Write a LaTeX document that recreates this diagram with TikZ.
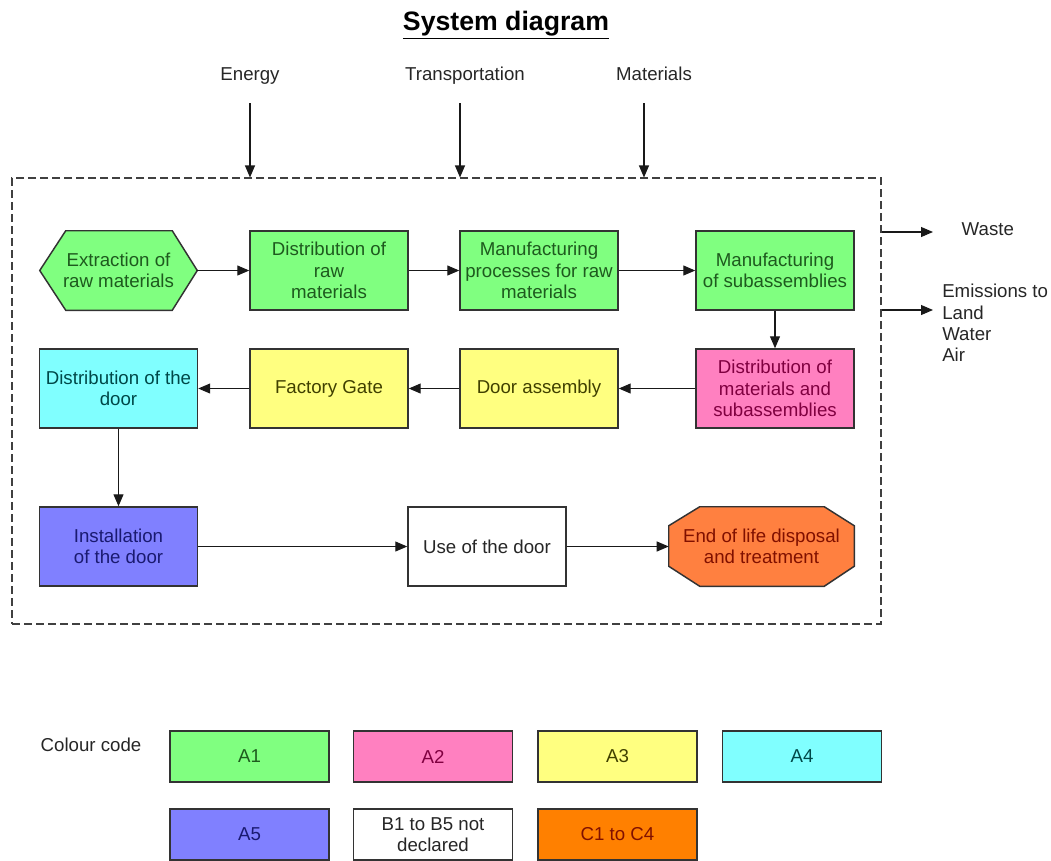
\documentclass[tikz,border=0pt]{standalone}
\usepackage{fontspec}
\setmainfont{Liberation Sans}
\usetikzlibrary{arrows.meta,backgrounds,calc}
\definecolor{aone}{HTML}{80FF80}
\definecolor{atwo}{HTML}{FF80C0}
\definecolor{athree}{HTML}{FFFF80}
\definecolor{afour}{HTML}{80FFFF}
\definecolor{afive}{HTML}{8080FF}
\definecolor{cend}{HTML}{FF8040}
\definecolor{ckey}{HTML}{FF8000}
\definecolor{aonetxt}{HTML}{1E5A1E}
\definecolor{atwotxt}{HTML}{800040}
\definecolor{athreetxt}{HTML}{404000}
\definecolor{afourtxt}{HTML}{004848}
\definecolor{afivetxt}{HTML}{1A1A70}
\definecolor{cendtxt}{HTML}{801000}
\begin{document}
\begin{tikzpicture}[x=0.75pt,y=-0.75pt,
  every node/.style={font=\fontsize{14}{16}\selectfont, align=center, text=black!85},
  box/.style={draw=black!80, line width=1.1pt, minimum width=118.5pt, minimum height=59.25pt, inner sep=1pt},
  shapebox/.style={minimum width=#1, minimum height=59.25pt, inner sep=1pt},
  keybox/.style={draw=black!80, line width=1.1pt, minimum width=119.25pt, minimum height=38.25pt, inner sep=1pt},
  arr/.style={-{Triangle[length=9pt,width=7.5pt]}, line width=0.8pt, black!90},
  sysbox/.style={draw=black!75, line width=0.8pt, dash pattern=on 6pt off 3pt, minimum width=651.75pt, minimum height=334.5pt}]
\useasboundingbox (0,0) rectangle (1051,861);

\node[font=\bfseries\fontsize{20}{24}\selectfont, text=black] (title) at (506,25) {\underline{System diagram}};
\node[anchor=base] (energy) at (250,80) {Energy};
\node[anchor=base] (transport) at (465,80) {Transportation};
\node[anchor=base] (materials) at (654,80) {Materials};

\node[sysbox] (sys) at (446.5,401) {};

\coordinate (e0) at (250,103);
\coordinate (t0) at (460,103);
\coordinate (m0) at (644,103);
\draw[arr] (e0) -- (e0 |- sys.north);
\draw[arr] (t0) -- (t0 |- sys.north);
\draw[arr] (m0) -- (m0 |- sys.north);

\node[shapebox=117.75pt, text=aonetxt] (extr) at (118.5,270.5) {Extraction of\\raw materials};
\node[box, fill=aone, text=aonetxt] (distraw) at (329,270.5) {Distribution of\\raw\\materials};
\node[box, fill=aone, text=aonetxt] (manproc) at (539,270.5) {Manufacturing\\processes for raw\\materials};
\node[box, fill=aone, text=aonetxt] (mansub) at (775,270.5) {Manufacturing\\of subassemblies};

\node[box, fill=atwo, text=atwotxt] (distmat) at (775,388.5) {Distribution of\\materials and\\subassemblies};
\node[box, fill=athree, text=athreetxt] (doorasm) at (539,388.5) {Door assembly};
\node[box, fill=athree, text=athreetxt] (gate) at (329,388.5) {Factory Gate};
\node[box, fill=afour, text=afourtxt] (distdoor) at (118.5,388.5) {Distribution of the\\door};

\node[box, fill=afive, text=afivetxt] (install) at (118.5,546.5) {Installation\\of the door};
\node[box, fill=white] (use) at (487,546.5) {Use of the door};
\node[shapebox=138.75pt, text=cendtxt] (eol) at (761.5,546.5) {End of life disposal\\and treatment};

\begin{scope}[on background layer]
\draw[fill=aone, draw=black!80, line width=1.1pt] (extr.west) -- ($(extr.north west)+(26,0)$) -- ($(extr.north east)+(-25,0)$) -- (extr.east) -- ($(extr.south east)+(-25,0)$) -- ($(extr.south west)+(26,0)$) -- cycle;
\draw[fill=cend, draw=black!80, line width=1.1pt] ($(eol.north west)+(0,19)$) -- ($(eol.north west)+(31,0)$) -- ($(eol.north east)+(-30,0)$) -- ($(eol.north east)+(0,19)$) -- ($(eol.south east)+(0,-20)$) -- ($(eol.south east)+(-30,0)$) -- ($(eol.south west)+(31,0)$) -- ($(eol.south west)+(0,-20)$) -- cycle;
\end{scope}

\draw[arr] (extr.east) -- (distraw.west);
\draw[arr] (distraw.east) -- (manproc.west);
\draw[arr] (manproc.east) -- (mansub.west);
\draw[arr] (mansub.south) -- (distmat.north);
\draw[arr] (distmat.west) -- (doorasm.east);
\draw[arr] (doorasm.west) -- (gate.east);
\draw[arr] (gate.west) -- (distdoor.east);
\draw[arr] (distdoor.south) -- (install.north);
\draw[arr] (install.east) -- (use.west);
\draw[arr] (use.east) -- (eol.west);

\coordinate (w1) at (933,232);
\coordinate (em1) at (933,310);
\draw[arr] (w1 -| sys.east) -- (w1);
\draw[arr] (em1 -| sys.east) -- (em1);
\node[anchor=west] (waste) at (957,229) {Waste};
\node[anchor=west, align=left, inner sep=0pt] (emis) at (942,323) {Emissions to\\Land\\Water\\Air};

\node[anchor=west] (colcode) at (36,745) {Colour code};
\node[keybox, fill=aone, text=aonetxt] (ka1) at (249.5,756.5) {A1};
\node[keybox, fill=atwo, text=atwotxt] (ka2) at (433,756.5) {A2};
\node[keybox, fill=athree, text=athreetxt] (ka3) at (617.5,756.5) {A3};
\node[keybox, fill=afour, text=afourtxt] (ka4) at (802,756.5) {A4};
\node[keybox, fill=afive, text=afivetxt] (ka5) at (249.5,834.5) {A5};
\node[keybox, fill=white] (kb) at (433,834.5) {B1 to B5 not\\declared};
\node[keybox, fill=ckey, text=cendtxt] (kc) at (617.5,834.5) {C1 to C4};
\end{tikzpicture}
\end{document}
